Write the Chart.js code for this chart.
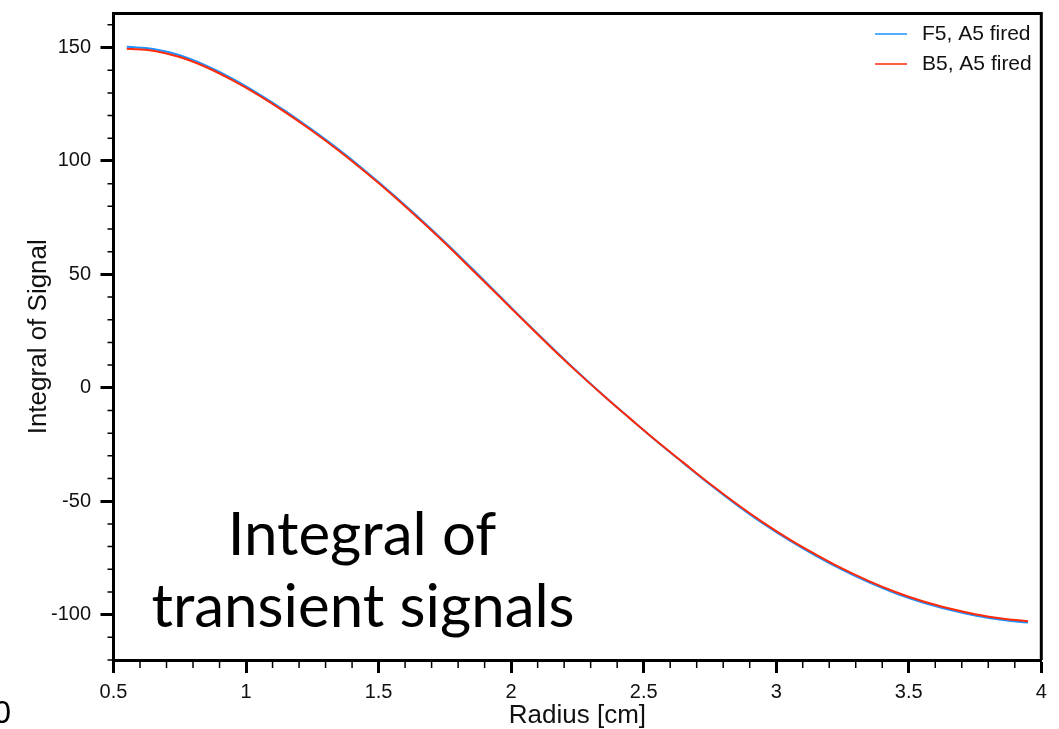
<!DOCTYPE html>
<html>
<head>
<meta charset="utf-8">
<script src="https://cdn.jsdelivr.net/npm/chart.js@4"></script>
<style>
  body { margin: 0; background: #fff; }
  canvas { display: block; }
</style>
</head>
<body>
<canvas id="signalChart" width="1059" height="729"></canvas>
<script>
// data
const radius = [0.55,0.65,0.75,0.85,0.95,1.05,1.15,1.25,1.35,1.45,1.55,1.65,1.75,1.85,1.95,2.05,2.15,2.25,2.35,2.45,2.55,2.65,2.75,2.85,2.95,3.05,3.15,3.25,3.35,3.45,3.55,3.65,3.75,3.85,3.95];
const f5Fired = [150.3,149.4,146.6,142.0,136.2,129.4,121.9,113.7,105.0,95.6,85.7,75.2,64.3,52.9,41.3,29.6,18.2,7.1,-3.5,-13.7,-23.7,-33.2,-42.6,-51.5,-59.8,-67.3,-74.1,-80.3,-85.8,-90.6,-94.6,-97.8,-100.4,-102.3,-103.5];
const b5Fired = [149.5,148.6,145.8,141.3,135.5,128.8,121.3,113.2,104.5,95.1,85.2,74.7,63.8,52.4,40.9,29.3,17.9,6.9,-3.6,-13.7,-23.6,-33.0,-42.3,-51.1,-59.3,-66.8,-73.5,-79.7,-85.2,-90.0,-94.0,-97.2,-99.8,-101.7,-102.9];
const xTickStep = 0.5;
const yTickStep = 50;

const blue = 'rgb(30,144,255)';
const red = 'rgb(255,42,10)';

const toPoints = (xs, ys) => xs.map((x, i) => ({x: x, y: ys[i]}));

const noPad = (scale) => {
  scale.paddingTop = 0;
  scale.paddingBottom = 0;
  scale.paddingLeft = 0;
  scale.paddingRight = 0;
};

// frame on top/right, minor ticks, legend, big caption
const decor = {
  id: 'decor',
  afterDraw(chart) {
    const {ctx, chartArea: a, scales: {x, y}} = chart;
    ctx.save();
    ctx.strokeStyle = '#000';
    ctx.lineWidth = 3;
    ctx.beginPath();
    ctx.moveTo(a.left, a.top);
    ctx.lineTo(a.right, a.top);
    ctx.lineTo(a.right, a.bottom);
    ctx.stroke();

    // minor ticks
    ctx.lineWidth = 1.5;
    ctx.beginPath();
    for (let v = 0.6; v < 4; v += 0.1) {
      if (Math.abs(v * 2 - Math.round(v * 2)) < 1e-6) continue;
      const px = x.getPixelForValue(v);
      ctx.moveTo(px, a.bottom);
      ctx.lineTo(px, a.bottom + 8);
    }
    for (let v = -120; v <= 160; v += 10) {
      if (v % 50 === 0) continue;
      const py = y.getPixelForValue(v);
      ctx.moveTo(a.left, py);
      ctx.lineTo(a.left - 6, py);
    }
    ctx.stroke();

    // legend
    ctx.font = '21px "Liberation Sans", Arial, sans-serif';
    ctx.textBaseline = 'middle';
    ctx.textAlign = 'left';
    chart.data.datasets.forEach((ds, i) => {
      const ly = 34 + i * 30;
      ctx.strokeStyle = ds.borderColor;
      ctx.lineWidth = 1.5;
      ctx.beginPath();
      ctx.moveTo(875, ly);
      ctx.lineTo(907, ly);
      ctx.stroke();
      ctx.fillStyle = '#111';
      ctx.fillText(ds.label, 922, ly);
    });

    // caption
    ctx.fillStyle = '#000';
    ctx.textAlign = 'center';
    ctx.textBaseline = 'alphabetic';
    ctx.font = '100px Lato, "Open Sans", sans-serif';
    const w = ctx.measureText('transient signals').width;
    const size = 100 * 423 / w;
    ctx.font = size.toFixed(1) + 'px Lato, "Open Sans", sans-serif';
    ctx.fillText('Integral of', 362, 555);
    ctx.fillText('transient signals', 363, 627);

    // cut off label at the left edge
    ctx.font = '32px "Liberation Sans", Arial, sans-serif';
    ctx.textAlign = 'right';
    ctx.fillText('0', 11, 723);
    ctx.restore();
  }
};

new Chart(document.getElementById('signalChart'), {
  type: 'line',
  data: {
    datasets: [{
      label: 'F5, A5 fired',
      data: toPoints(radius, f5Fired),
      borderColor: blue,
      borderWidth: 2,
      pointRadius: 0,
      tension: 0.4,
      order: 2
    }, {
      label: 'B5, A5 fired',
      data: toPoints(radius, b5Fired),
      borderColor: red,
      borderWidth: 2,
      pointRadius: 0,
      tension: 0.4,
      order: 1
    }]
  },
  options: {
    responsive: false,
    animation: false,
    layout: {
      padding: {top: 13.5, right: 17.7, left: 0, bottom: 0}
    },
    plugins: {
      legend: {display: false},
      tooltip: {enabled: false}
    },
    scales: {
      x: {
        type: 'linear',
        min: 0.5,
        max: 4,
        afterFit(scale) { scale.height = 69; noPad(scale); },
        ticks: {
          stepSize: xTickStep,
          includeBounds: false,
          padding: 7,
          color: '#111',
          maxRotation: 0,
          callback: (v) => String(+v.toFixed(1)),
          font: {family: '"Liberation Sans", Arial, sans-serif', size: 20}
        },
        grid: {
          drawOnChartArea: false,
          tickLength: 13,
          tickWidth: 3,
          tickColor: '#000'
        },
        border: {color: '#000', width: 3},
        title: {
          display: true,
          text: 'Radius [cm]',
          color: '#111',
          padding: {top: 0, bottom: -2},
          font: {family: '"Liberation Sans", Arial, sans-serif', size: 26}
        }
      },
      y: {
        min: -120,
        max: 165,
        afterFit(scale) { scale.width = 113.5; noPad(scale); },
        ticks: {
          stepSize: yTickStep,
          includeBounds: false,
          padding: 9.5,
          color: '#111',
          font: {family: '"Liberation Sans", Arial, sans-serif', size: 20}
        },
        grid: {
          drawOnChartArea: false,
          tickLength: 13,
          tickWidth: 3,
          tickColor: '#000'
        },
        border: {color: '#000', width: 3},
        title: {
          display: true,
          text: 'Integral of Signal',
          color: '#111',
          padding: {top: 23.4, bottom: 0},
          font: {family: '"Liberation Sans", Arial, sans-serif', size: 26}
        }
      }
    }
  },
  plugins: [decor]
});
</script>
</body>
</html>
